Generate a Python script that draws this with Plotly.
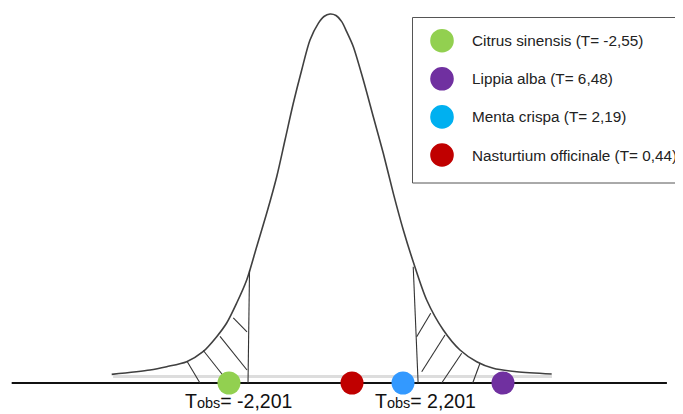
import plotly.graph_objects as go

# ---------------- data ----------------
species = ["Citrus sinensis", "Lippia alba", "Menta crispa", "Nasturtium officinale"]
t_labels = ["-2,55", "6,48", "2,19", "0,44"]
t_values = [-2.55, 6.48, 2.19, 0.44]
# positions at which the points are drawn on the schematic axis
drawn_pos = [-2.706, 4.562, 1.910, 0.557]
point_colors = ["#92D050", "#7030A0", "#3399FF", "#C00000"]
legend_colors = ["#92D050", "#7030A0", "#00B0F0", "#C00000"]

t_crit = 2.201
crit_labels = ["-2,201", "2,201"]
crit_height_left = 0.1225
crit_height_right = 0.1260

# hand-drawn t curve (t, density)
curve_t = [-5.817, -4.801, -4.358, -3.828, -3.395, -3.032, -2.767, -2.501, -2.236,
           -1.971, -1.706, -1.440, -1.220, -1.000, -0.777, -0.557, -0.337, -0.186,
           -0.027, 0.133, 0.284, 0.416, 0.592, 0.857, 1.122, 1.387, 1.653, 1.918,
           2.183, 2.538, 2.979, 3.422, 3.865, 4.305, 4.926, 5.854]
curve_d = [0.0094, 0.0141, 0.0177, 0.0231, 0.0339, 0.0502, 0.0650, 0.0867, 0.1117,
           0.1478, 0.1840, 0.2236, 0.2634, 0.3032, 0.3393, 0.3718, 0.3899, 0.3973,
           0.4000, 0.3984, 0.3917, 0.3808, 0.3646, 0.3285, 0.2887, 0.2490, 0.2056, 0.1659,
           0.1312, 0.0900, 0.0575, 0.0358, 0.0231, 0.0159, 0.0122, 0.0098]

# hatch strokes in the rejection regions: (t0, d0, t1, d1)
hatch_left = [(-3.812, 0.0231, -3.475, 0.0),
              (-3.387, 0.0352, -2.851, 0.0076),
              (-2.944, 0.0506, -2.228, 0.0141),
              (-2.592, 0.0705, -2.228, 0.0553)]
hatch_right = [(2.645, 0.0756, 2.273, 0.0502),
               (3.024, 0.0520, 2.406, 0.0122),
               (3.467, 0.0322, 2.936, 0.0),
               (3.952, 0.0214, 3.759, 0.0)]

axis_span = [-8.47, 8.91]
tail_span = [-5.78, 5.86]
tail_level = 0.007

# ---------------- figure ----------------
W, H = 683, 414
OFF = 8  # page body margin offset


def px(p):
    return (p - OFF) / W


def py(p):
    return 1 - (p - OFF) / H


fig = go.Figure()

fig.add_trace(go.Scatter(x=tail_span, y=[tail_level, tail_level], mode="lines",
                         line=dict(color="#DDDDDD", width=3), hoverinfo="skip",
                         showlegend=False))
fig.add_trace(go.Scatter(x=axis_span, y=[0, 0], mode="lines",
                         line=dict(color="#111111", width=2), hoverinfo="skip",
                         showlegend=False))
fig.add_trace(go.Scatter(x=curve_t, y=curve_d, mode="lines",
                         line=dict(color="#404040", width=1.6, shape="spline", smoothing=0.8),
                         hoverinfo="skip", showlegend=False))

hx, hy = [], []
for (a, b, c, d) in hatch_left + hatch_right:
    hx += [a, c, None]
    hy += [b, d, None]
hx += [-t_crit, -t_crit + 0.04, None, t_crit - 0.02, t_crit + 0.11, None]
hy += [0, crit_height_left, None, crit_height_right, 0, None]
fig.add_trace(go.Scatter(x=hx, y=hy, mode="lines",
                         line=dict(color="#333333", width=1.1),
                         hoverinfo="skip", showlegend=False))

fig.add_trace(go.Scatter(x=drawn_pos, y=[0] * len(drawn_pos), mode="markers",
                         marker=dict(size=23, color=point_colors, line=dict(width=0)),
                         text=[f"{s} (T= {l})" for s, l in zip(species, t_labels)],
                         hoverinfo="text", showlegend=False))

shapes = []
annotations = []

shapes.append(dict(type="rect", xref="paper", yref="paper",
                   x0=px(412.5), x1=px(681), y0=py(183), y1=py(17.5),
                   line=dict(color="#555555", width=1), fillcolor="white", layer="below"))
for i, (s, l, c) in enumerate(zip(species, t_labels, legend_colors)):
    cy = 40.7 + i * 38.1
    r = 11.8
    shapes.append(dict(type="circle", xref="paper", yref="paper",
                       x0=px(442 - r), x1=px(442 + r),
                       y0=py(cy + r), y1=py(cy - r),
                       fillcolor=c, line=dict(width=0)))
    annotations.append(dict(xref="paper", yref="paper", x=px(470), y=py(cy),
                            xanchor="left", yanchor="middle", showarrow=False,
                            text=f"{s} (T= {l})",
                            font=dict(family="Liberation Sans, Arial", size=15.3, color="#222222")))

for x0px, lab in zip([183, 373], crit_labels):
    annotations.append(dict(xref="paper", yref="paper", x=px(x0px), y=py(401),
                            xanchor="left", yanchor="middle", showarrow=False,
                            text=f"T<span style='font-size:14.5px'>obs</span>= {lab}",
                            font=dict(family="Liberation Sans, Arial", size=19.5, color="#111111")))

# axis ranges shifted to compensate for the page offset
x_lo = (OFF - 331) / 37.7
x_hi = (W + OFF - 331) / 37.7
y_hi = (383 - OFF) / 922.5
y_lo = (383 - (H + OFF)) / 922.5

fig.update_layout(
    width=W, height=H, autosize=False,
    margin=dict(l=0, r=0, t=0, b=0),
    paper_bgcolor="white", plot_bgcolor="white",
    xaxis=dict(range=[x_lo, x_hi], visible=False, fixedrange=True),
    yaxis=dict(range=[y_lo, y_hi], visible=False, fixedrange=True),
    shapes=shapes, annotations=annotations, showlegend=False,
)

fig.write_html("out.html")
